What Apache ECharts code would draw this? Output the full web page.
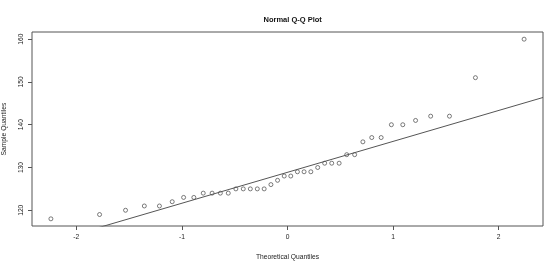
<!DOCTYPE html>
<html>
<head>
<meta charset="utf-8">
<script src="https://cdn.jsdelivr.net/npm/echarts@6/dist/echarts.min.js"></script>
<style>
html,body{margin:0;padding:0;background:#fff;}
#chart{width:560px;height:266px;}
</style>
</head>
<body>
<div id="chart"></div>
<script>
// Theoretical quantiles (x)
const theoretical = [
  -2.241, -1.780, -1.534, -1.356, -1.213, -1.092, -0.984, -0.887, -0.798, -0.714,
  -0.636, -0.561, -0.489, -0.419, -0.352, -0.286, -0.221, -0.157, -0.094, -0.031,
   0.031,  0.094,  0.157,  0.221,  0.286,  0.352,  0.419,  0.489,  0.561,  0.636,
   0.714,  0.798,  0.887,  0.984,  1.092,  1.213,  1.356,  1.534,  1.780,  2.241
];
// Sample quantiles (y)
const sample = [
  118, 119, 120, 121, 121, 122, 123, 123, 124, 124,
  124, 124, 125, 125, 125, 125, 125, 126, 127, 128,
  128, 129, 129, 129, 130, 131, 131, 131, 133, 133,
  136, 137, 137, 140, 140, 141, 142, 142, 151, 160
];
// Reference line endpoints (qqline)
const lineX = [-2.42, 2.42];
const lineY = [111.38, 146.37];
// Tick labels
const xTicks = [-2, -1, 0, 1, 2];
const yTicks = [120, 130, 140, 150, 160];
const xRange = [-2.42, 2.42];
const yRange = [116.32, 161.68];

const FONT = 'Liberation Sans, Arial, sans-serif';
const chart = echarts.init(document.getElementById('chart'), null, {renderer: 'canvas'});
chart.setOption({
  animation: false,
  backgroundColor: '#fff',
  title: {
    text: 'Normal Q-Q Plot',
    left: 287.7,
    top: 11,
    textAlign: 'center',
    textStyle: {fontFamily: FONT, fontSize: 7.5, fontWeight: 'bold', color: '#111'}
  },
  grid: {
    left: 32, top: 32, right: 17, bottom: 40,
    containLabel: false,
    outerBoundsMode: 'none',
    show: true, borderColor: '#555', borderWidth: 1, backgroundColor: 'transparent'
  },
  xAxis: {
    type: 'value',
    min: xRange[0], max: xRange[1],
    name: 'Theoretical Quantiles',
    nameLocation: 'middle',
    nameGap: 28,
    nameTextStyle: {fontFamily: FONT, fontSize: 6.7, color: '#222'},
    axisLine: {show: false, onZero: false},
    splitLine: {show: false},
    axisTick: {show: true, inside: false, length: 4, customValues: xTicks, lineStyle: {color: '#555', width: 1}},
    axisLabel: {customValues: xTicks, margin: 8, fontFamily: FONT, fontSize: 6.7, color: '#222'}
  },
  yAxis: {
    type: 'value',
    min: yRange[0], max: yRange[1],
    name: 'Sample Quantiles',
    nameLocation: 'middle',
    nameGap: 24,
    nameRotate: 90,
    nameTextStyle: {fontFamily: FONT, fontSize: 6.7, color: '#222'},
    axisLine: {show: false, onZero: false},
    splitLine: {show: false},
    axisTick: {show: true, inside: false, length: 4, customValues: yTicks, lineStyle: {color: '#555', width: 1}},
    axisLabel: {customValues: yTicks, rotate: 90, margin: 7, fontFamily: FONT, fontSize: 6.7, color: '#222', align: 'center', verticalAlign: 'bottom'}
  },
  series: [
    {
      type: 'scatter',
      data: theoretical.map((x, i) => [x, sample[i]]),
      symbol: 'circle',
      symbolSize: 4,
      itemStyle: {color: 'rgba(0,0,0,0)', borderColor: '#333', borderWidth: 0.8}
    },
    {
      type: 'line',
      data: lineX.map((x, i) => [x, lineY[i]]),
      symbol: 'none',
      clip: true,
      lineStyle: {color: '#555', width: 1}
    }
  ]
});
</script>
</body>
</html>
